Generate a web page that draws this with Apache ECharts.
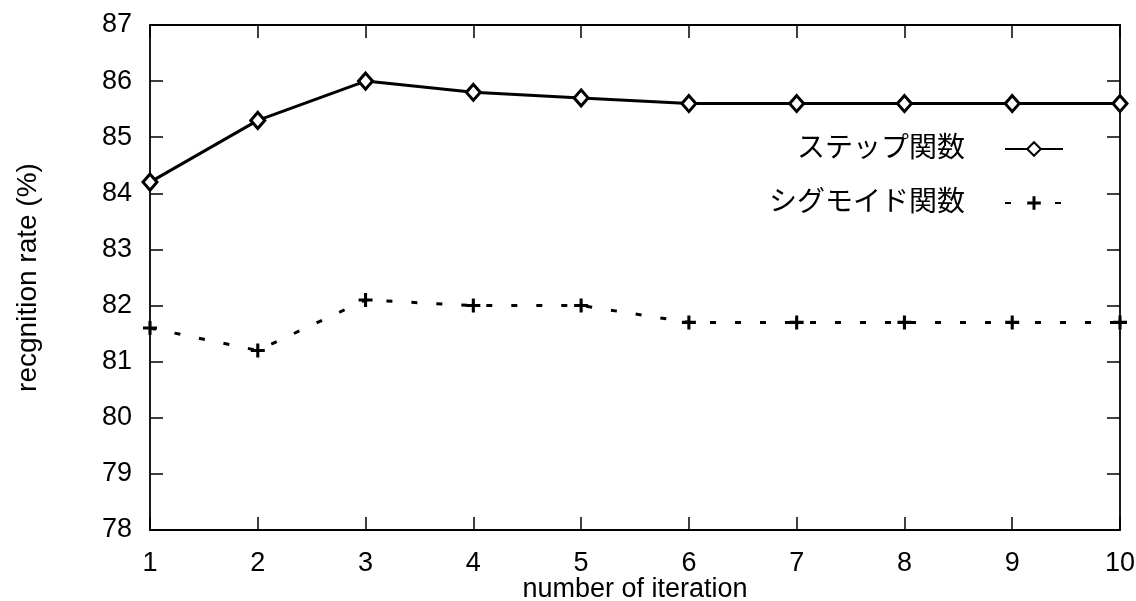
<!DOCTYPE html>
<html>
<head>
<meta charset="utf-8">
<script src="https://cdn.jsdelivr.net/npm/echarts@6/dist/echarts.min.js"></script>
<style>html,body{margin:0;padding:0;background:#fff;}#c{width:1136px;height:601px;}</style>
</head>
<body>
<div id="c"></div>
<script>
const iterations = [1, 2, 3, 4, 5, 6, 7, 8, 9, 10];
const stepValues = [84.2, 85.3, 86.0, 85.8, 85.7, 85.6, 85.6, 85.6, 85.6, 85.6];
const sigmoidValues = [81.6, 81.2, 82.1, 82.0, 82.0, 81.7, 81.7, 81.7, 81.7, 81.7];
const seriesNames = ['ステップ関数', 'シグモイド関数'];
const xTitle = 'number of iteration';
const yTitle = 'recgnition rate (%)';

const FONT = '"Liberation Sans", Arial, "Noto Sans CJK JP", sans-serif';
const FS = 27;
const plusPath = 'path://M3.9,0H6.1V3.9H10V6.1H6.1V10H3.9V6.1H0V3.9H3.9Z';

const chart = echarts.init(document.getElementById('c'));
const axisCommon = {
  axisLine: { show: true, onZero: false, lineStyle: { color: '#000', width: 1.8 } },
  axisTick: { show: true, inside: true, length: 13, lineStyle: { color: '#000', width: 1.5 } },
  splitLine: { show: false }
};
chart.setOption({
  backgroundColor: '#fff',
  animation: false,
  textStyle: { fontFamily: FONT },
  grid: { left: 150, right: 16, top: 25, bottom: 71, containLabel: false, outerBoundsMode: 'none' },
  legend: {
    orient: 'vertical',
    align: 'right',
    right: 67,
    top: 130,
    itemWidth: 58,
    itemHeight: 17,
    itemGap: 26,
    textStyle: { fontSize: 28, color: '#000', fontFamily: FONT, padding: [0, 35, 0, 0] },
    data: seriesNames
  },
  xAxis: [
    Object.assign({}, axisCommon, {
      type: 'value', min: 1, max: 10, interval: 1, position: 'bottom',
      name: xTitle, nameLocation: 'middle', nameGap: 46, nameMoveOverlap: false,
      nameTextStyle: { fontSize: 27, color: '#000', fontFamily: FONT },
      axisLabel: { fontSize: FS, color: '#000', margin: 20, fontFamily: FONT }
    }),
    Object.assign({}, axisCommon, {
      type: 'value', min: 1, max: 10, interval: 1, position: 'top',
      axisLabel: { show: false }
    })
  ],
  yAxis: [
    Object.assign({}, axisCommon, {
      type: 'value', min: 78, max: 87, interval: 1, position: 'left',
      name: yTitle, nameLocation: 'middle', nameGap: 108, nameRotate: 90, nameMoveOverlap: false,
      nameTextStyle: { fontSize: 28, color: '#000', fontFamily: FONT },
      axisLabel: { fontSize: FS, color: '#000', margin: 18, fontFamily: FONT }
    }),
    Object.assign({}, axisCommon, {
      type: 'value', min: 78, max: 87, interval: 1, position: 'right',
      axisLabel: { show: false }
    })
  ],
  series: [
    {
      name: seriesNames[0], type: 'line',
      data: iterations.map((x, i) => [x, stepValues[i]]),
      symbol: 'diamond', symbolSize: [14, 16], showAllSymbol: true,
      lineStyle: { color: '#000', width: 3 },
      itemStyle: { color: '#fff', borderColor: '#000', borderWidth: 3 },
      emphasis: { disabled: true }, clip: false, z: 3
    },
    {
      name: seriesNames[1], type: 'line',
      data: iterations.map((x, i) => [x, sigmoidValues[i]]),
      symbol: plusPath, symbolSize: 14, showAllSymbol: true,
      lineStyle: { color: '#000', width: 3, type: [6, 19] },
      itemStyle: { color: '#000', borderWidth: 0 },
      emphasis: { disabled: true }, clip: false, z: 3
    }
  ]
});
</script>
</body>
</html>
